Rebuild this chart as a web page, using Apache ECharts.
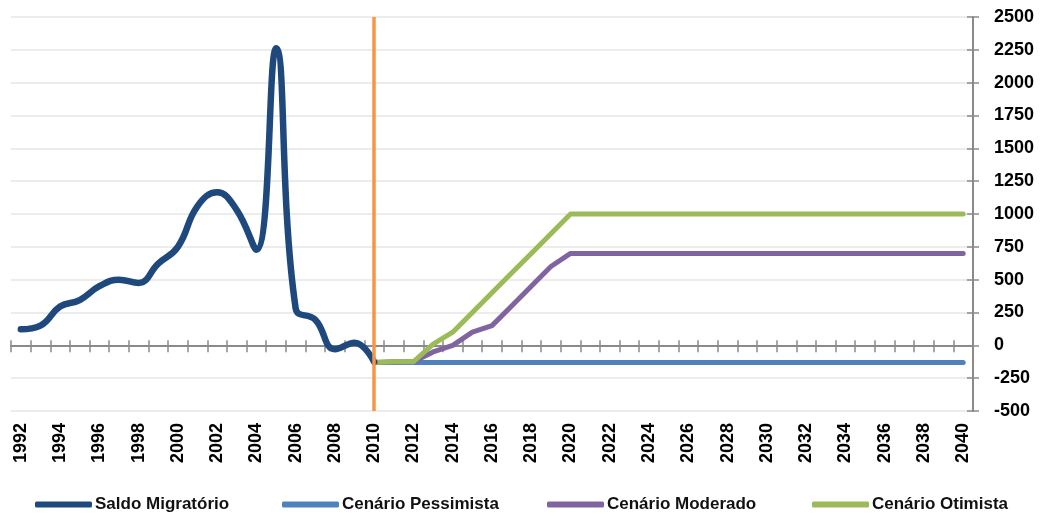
<!DOCTYPE html>
<html>
<head>
<meta charset="utf-8">
<script src="https://cdn.jsdelivr.net/npm/echarts@6/dist/echarts.min.js"></script>
<style>
  html, body { margin: 0; padding: 0; background: #ffffff; }
  #chart { width: 1041px; height: 516px; }
</style>
</head>
<body>
<div id="chart"></div>
<script>
// Years on the category axis
const years = [
  '1992','1993','1994','1995','1996','1997','1998','1999','2000','2001',
  '2002','2003','2004','2005','2006','2007','2008','2009','2010','2011',
  '2012','2013','2014','2015','2016','2017','2018','2019','2020','2021',
  '2022','2023','2024','2025','2026','2027','2028','2029','2030','2031',
  '2032','2033','2034','2035','2036','2037','2038','2039','2040'
];

// Observed net migration, 1992–2010
const saldoMigratorio = [
  122, 150, 295, 345, 450, 500, 475, 622, 750, 1060,
  1165, 1030, 728, 2262, 280, 195, -30, 20, -127
];

// Scenarios, 2010–2040
const cenarioPessimista = [
  -130, -130, -130, -130, -130, -130, -130, -130, -130, -130,
  -130, -130, -130, -130, -130, -130, -130, -130, -130, -130,
  -130, -130, -130, -130, -130, -130, -130, -130, -130, -130, -130
];
const cenarioModerado = [
  -130, -125, -125, -50, 0, 100, 150, 300, 450, 600,
  700, 700, 700, 700, 700, 700, 700, 700, 700, 700,
  700, 700, 700, 700, 700, 700, 700, 700, 700, 700, 700
];
const cenarioOtimista = [
  -130, -125, -125, 10, 100, 250, 400, 550, 700, 850,
  1000, 1000, 1000, 1000, 1000, 1000, 1000, 1000, 1000, 1000,
  1000, 1000, 1000, 1000, 1000, 1000, 1000, 1000, 1000, 1000, 1000
];

const seriesNames = ['Saldo Migratório', 'Cenário Pessimista', 'Cenário Moderado', 'Cenário Otimista'];
const yMin = -500, yMax = 2500, yStep = 250;
const scenarioStart = '2010';

// Place each series on the full year axis
function fromYear(startYear, values) {
  const offset = years.indexOf(startYear);
  const out = new Array(years.length).fill(null);
  values.forEach((v, i) => { out[offset + i] = v; });
  return out;
}

const axisGrey = '#8A8A8A';
const textFont = 'Liberation Sans';
const chart = echarts.init(document.getElementById('chart'), null, { renderer: 'canvas' });

const lineSeries = (name, color, width, values, extra) => Object.assign({
  name,
  type: 'line',
  xAxisIndex: 0,
  yAxisIndex: 0,
  data: values,
  showSymbol: false,
  symbol: 'none',
  connectNulls: false,
  lineStyle: { color, width, cap: 'round', join: 'round' },
  itemStyle: { color },
  emphasis: { disabled: true },
  z: 3
}, extra || {});

// one legend entry per block, spread across the bottom
const legendLefts = [35, 282, 547, 812];
const legends = seriesNames.map((name, i) => ({
  left: legendLefts[i],
  top: 496,
  padding: 0,
  icon: 'roundRect',
  itemWidth: 57,
  itemHeight: 6,
  selectedMode: false,
  textStyle: { fontFamily: textFont, fontWeight: 'bold', fontSize: 17, color: '#111111', padding: [0, 0, 0, -2] },
  data: [name]
}));

chart.setOption({
  animation: false,
  backgroundColor: '#ffffff',
  grid: { left: 11, right: 68, top: 17, bottom: 105, containLabel: false },
  legend: legends,
  xAxis: [
    {
      // year labels along the bottom
      type: 'category',
      data: years,
      boundaryGap: true,
      position: 'bottom',
      axisLine: { show: false, onZero: false },
      axisTick: { show: false },
      axisLabel: {
        interval: 1,
        rotate: 90,
        margin: 12,
        fontFamily: textFont,
        fontWeight: 'bold',
        fontSize: 18,
        color: '#000000'
      },
      splitLine: { show: false }
    },
    {
      // baseline at zero with upward ticks
      type: 'category',
      data: years,
      boundaryGap: true,
      position: 'bottom',
      axisLine: { show: true, onZero: true, onZeroAxisIndex: 0, lineStyle: { color: axisGrey, width: 2 } },
      axisTick: { show: true, inside: true, interval: 0, length: 5, lineStyle: { color: axisGrey, width: 1.5 } },
      axisLabel: { show: false },
      splitLine: { show: false }
    },
    {
      // downward ticks on the same baseline
      type: 'category',
      data: years,
      boundaryGap: true,
      position: 'bottom',
      axisLine: { show: false, onZero: true, onZeroAxisIndex: 0 },
      axisTick: { show: true, inside: false, interval: 0, length: 7, lineStyle: { color: axisGrey, width: 1.5 } },
      axisLabel: { show: false },
      splitLine: { show: false }
    }
  ],
  yAxis: [
    {
      type: 'value',
      position: 'right',
      min: yMin,
      max: yMax,
      interval: yStep,
      axisLine: { show: true, onZero: false, lineStyle: { color: axisGrey, width: 2 } },
      axisTick: { show: true, inside: false, length: 6, lineStyle: { color: axisGrey, width: 1.5 } },
      axisLabel: {
        margin: 21,
        fontFamily: textFont,
        fontWeight: 'bold',
        fontSize: 18,
        color: '#000000',
        align: 'left',
        formatter: (v) => String(v)
      },
      splitLine: { show: true, lineStyle: { color: '#ECECEC', width: 2 } }
    },
    {
      type: 'value',
      position: 'right',
      min: yMin,
      max: yMax,
      interval: yStep,
      axisLine: { show: false, onZero: false },
      axisTick: { show: true, inside: true, length: 6, lineStyle: { color: axisGrey, width: 1.5 } },
      axisLabel: { show: false },
      splitLine: { show: false }
    }
  ],
  series: [
    lineSeries(seriesNames[0], '#1F497D', 6.5, fromYear('1992', saldoMigratorio), {
      smooth: 0.45,
      z: 4,
      markLine: {
        silent: true,
        symbol: ['none', 'none'],
        label: { show: false },
        lineStyle: { color: '#F79646', width: 3.5, type: 'solid' },
        emphasis: { disabled: true },
        data: [{ xAxis: scenarioStart }]
      }
    }),
    lineSeries(seriesNames[1], '#4F81BD', 5, fromYear(scenarioStart, cenarioPessimista)),
    lineSeries(seriesNames[2], '#8064A2', 5, fromYear(scenarioStart, cenarioModerado)),
    lineSeries(seriesNames[3], '#9BBB59', 5, fromYear(scenarioStart, cenarioOtimista))
  ]
});
</script>
</body>
</html>
